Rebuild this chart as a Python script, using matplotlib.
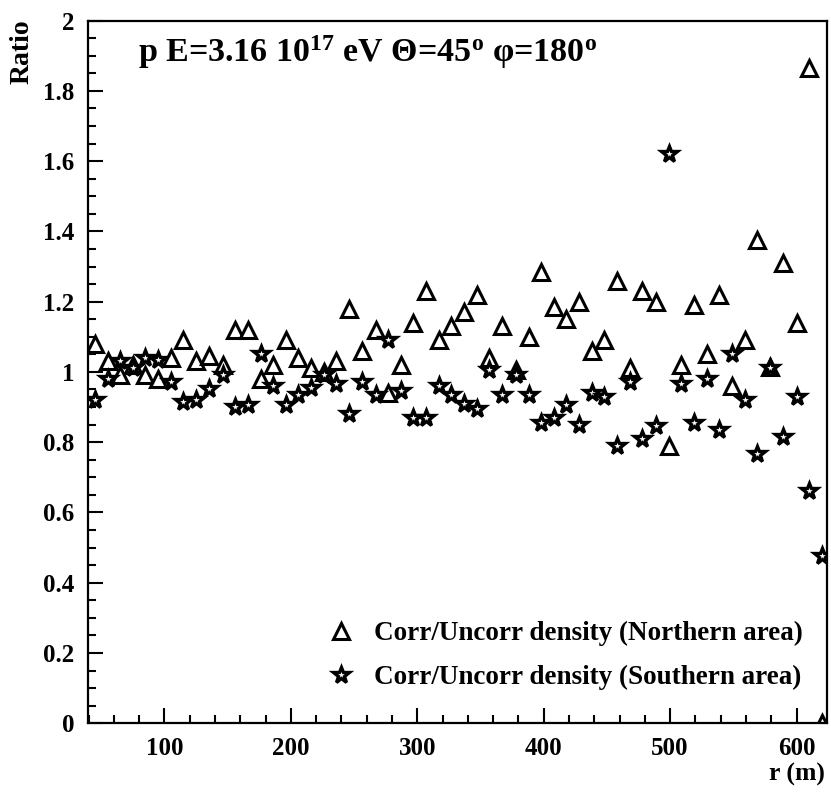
import matplotlib
matplotlib.use("Agg")
import matplotlib.pyplot as plt
from matplotlib.markers import MarkerStyle
from matplotlib.ticker import MultipleLocator, FormatStrFormatter

plt.rcParams['font.family'] = ['Liberation Serif', 'DejaVu Serif']
plt.rcParams['font.weight'] = 'bold'
plt.rcParams['mathtext.fontset'] = 'custom'
plt.rcParams['mathtext.rm'] = 'Liberation Serif:bold'
plt.rcParams['mathtext.it'] = 'Liberation Serif:italic:bold'
plt.rcParams['mathtext.bf'] = 'Liberation Serif:bold'

# distance from core (m)
r = [45, 55, 65, 75, 85, 95, 105, 115, 125, 135,
     146, 156, 166, 176, 186, 196, 206, 216, 226, 236,
     246, 256, 267, 277, 287, 297, 307, 317, 327, 337,
     347, 357, 367, 378, 388, 398, 408, 418, 428, 438,
     448, 458, 468, 478, 489, 499, 509, 519, 529, 539,
     549, 559, 569, 579, 589, 600, 610, 620]

# Corr/Uncorr density ratio, northern area
north = [1.08, 1.03, 0.99, 1.02, 0.99, 0.98, 1.04, 1.09, 1.03, 1.045,
         1.02, 1.12, 1.12, 0.98, 1.02, 1.09, 1.04, 1.01, 1.00, 1.03,
         1.18, 1.06, 1.12, 0.94, 1.02, 1.14, 1.23, 1.09, 1.13, 1.17,
         1.22, 1.04, 1.13, 1.005, 1.10, 1.285, 1.185, 1.15, 1.20, 1.06,
         1.09, 1.26, 1.01, 1.23, 1.20, 0.79, 1.02, 1.19, 1.05, 1.22,
         0.96, 1.09, 1.375, 1.015, 1.31, 1.14, 1.865, 0.0]

# Corr/Uncorr density ratio, southern area
south = [0.92, 0.98, 1.03, 1.01, 1.04, 1.035, 0.97, 0.915, 0.92, 0.95,
         0.99, 0.90, 0.905, 1.05, 0.96, 0.905, 0.935, 0.955, 0.99, 0.965,
         0.88, 0.97, 0.935, 1.09, 0.945, 0.87, 0.87, 0.96, 0.935, 0.91,
         0.895, 1.005, 0.935, 0.99, 0.935, 0.855, 0.87, 0.905, 0.85, 0.94,
         0.93, 0.79, 0.97, 0.81, 0.845, 1.62, 0.965, 0.855, 0.98, 0.835,
         1.05, 0.92, 0.765, 1.01, 0.815, 0.93, 0.66, 0.475]

labels = ['Corr/Uncorr density (Northern area)',
          'Corr/Uncorr density (Southern area)']

fig = plt.figure(figsize=(8.31, 7.93), dpi=100)
ax = fig.add_axes([0.106, 0.088, 0.889, 0.886])

tri = MarkerStyle('^', joinstyle='miter')
star = MarkerStyle('*', joinstyle='miter')
ax.plot(r, north, linestyle='none', marker=tri, markersize=12,
        markerfacecolor='white', markeredgecolor='black', markeredgewidth=2.2,
        label=labels[0])
ax.plot(r, south, linestyle='none', marker=star, markersize=12,
        markerfacecolor='white', markeredgecolor='black', markeredgewidth=2.4,
        label=labels[1])

ax.set_xlim(39.6, 624)
ax.set_ylim(0, 2)

ax.xaxis.set_major_locator(MultipleLocator(100))
ax.xaxis.set_minor_locator(MultipleLocator(20))
ax.yaxis.set_major_locator(MultipleLocator(0.2))
ax.yaxis.set_minor_locator(MultipleLocator(0.05))
ax.yaxis.set_major_formatter(FormatStrFormatter('%g'))

ax.tick_params(which='both', direction='in', top=False, right=False,
               labelsize=18, width=1.5)
ax.tick_params(which='major', length=11, pad=10)
ax.tick_params(which='minor', length=6)
for sp in ax.spines.values():
    sp.set_linewidth(1.6)
for t in ax.get_xticklabels() + ax.get_yticklabels():
    t.set_fontweight('bold')

ax.text(0.068, 0.955, 'p E=3.16 10$^{17}$ eV \u0398=45$^{\\rm o}$ \u03c6=180$^{\\rm o}$',
        transform=ax.transAxes, fontsize=24.5, fontweight='bold', va='center', ha='left')

fig.text(0.027, 0.975, 'Ratio', rotation=90, fontsize=20, fontweight='bold',
         ha='center', va='top')
fig.text(0.993, 0.024, 'r (m)', fontsize=18.5, fontweight='bold', ha='right', va='center')

leg = ax.legend(loc='lower right', bbox_to_anchor=(1.0, 0.012), frameon=False,
                fontsize=19.5, handletextpad=0.7, labelspacing=0.7,
                handlelength=1.0)
for t in leg.get_texts():
    t.set_fontweight('bold')

fig.savefig('out.png', dpi=100)
